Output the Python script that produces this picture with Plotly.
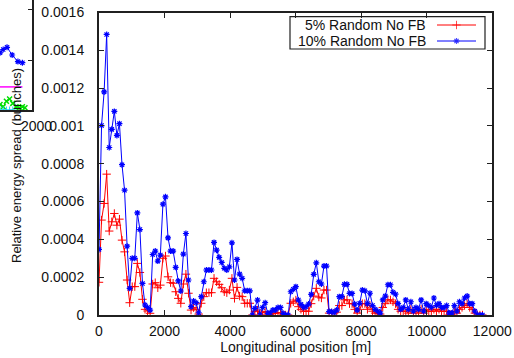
import plotly.graph_objects as go

W, H = 514, 358

position_m = [
    0, 78, 156, 234, 312, 390, 468, 546, 624, 702,
    780, 858, 936, 1014, 1092, 1170, 1248, 1326, 1404, 1482,
    1560, 1638, 1716, 1794, 1872, 1950, 2028, 2106, 2184, 2262,
    2340, 2418, 2496, 2574, 2652, 2730, 2808, 2886, 2964, 3042,
    3120, 3198, 3276, 3354, 3432, 3510, 3588, 3666, 3744, 3822,
    3900, 3978, 4056, 4134, 4212, 4290, 4368, 4446, 4524, 4602,
    4680, 4758, 4836, 4914, 4992, 5070, 5148, 5226, 5304, 5382,
    5460, 5538, 5616, 5694, 5772, 5850, 5928, 6006, 6084, 6162,
    6240, 6318, 6396, 6474, 6552, 6630, 6708, 6786, 6864, 6942,
    7020, 7098, 7176, 7254, 7332, 7410, 7488, 7566, 7644, 7722,
    7800, 7878, 7956, 8034, 8112, 8190, 8268, 8346, 8424, 8502,
    8580, 8658, 8736, 8814, 8892, 8970, 9048, 9126, 9204, 9282,
    9360, 9438, 9516, 9594, 9672, 9750, 9828, 9906, 9984, 10062,
    10140, 10218, 10296, 10374, 10452, 10530, 10608, 10686, 10764, 10842,
    10920, 10998, 11076, 11154, 11232, 11310, 11388, 11466, 11544, 11622,
    11700,
]

spread_10pct = [
    0.000347, 0.001002, 0.00118, 0.001484, 0.000886, 0.000982, 0.001077, 0.00095, 0.001012, 0.000795,
    0.00066, 0.000364, 0.000141, 0.0003, 0.0003, 0.00054, 0.000452, 0.000167, 0.000053, 0.00004,
    0.000026, 0.00032, 0.000338, 0.000285, 0.000317, 0.000586, 0.000625, 0.000408, 0.000338, 0.000338,
    0.000252, 0.00018, 0.000127, 0.000322, 0.000431, 0.000185, 0.000044, 0.000074, 0.000065, 0.000012,
    0.000097, 0.000176, 0.000238, 0.000238, 0.000238, 0.000384, 0.000343, 0.000305, 0.000278, 0.000247,
    0.000238, 0.000255, 0.000382, 0.000185, 0.000294, 0.000216, 0.000194, 0.000128, 0.000128, 0.000128,
    0.0, 0.000035, 0.000079, 0.0, 0.00004, 0.000065, 0.000009, 0.000012, 0.000026, 0.000026,
    0.00004, 0.00004, 0.000009, 0.0, 0.0, 0.000123, 0.000136, 0.00015, 0.000079, 0.000056,
    0.00004, 0.000044, 0.000058, 0.000109, 0.000215, 0.000276, 0.000176, 0.000164, 0.000259, 0.000259,
    0.000018, 0.000018, 0.000013, 0.000026, 0.000097, 0.000097, 0.000162, 0.000162, 0.000114, 0.000114,
    0.000058, 0.000026, 0.000062, 0.000132, 0.000128, 0.00006, 0.000115, 0.00005, 0.00003, 0.00002,
    0.00001, 0.00008, 0.0001, 0.00016, 0.00016, 0.00012, 0.00011, 0.00006, 0.00003, 0.00004,
    0.00008, 0.00003, 0.00007, 0.00002, 0.00004, 0.00003, 0.00008, 0.00002, 0.00006, 0.00005,
    0.00004, 0.00009, 0.00005, 0.00006, 0.00004, 0.00004, 0.00005, 0.00001, 0.00001, 0.00005,
    0.00002, 0.00007, 0.00006, 0.00009, 0.0001, 0.00006, 0.00006, 0.00002, 0.0, 0.0,
    0.0,
]

spread_5pct = [
    0.000173, 0.000502, 0.00059, 0.000745, 0.000444, 0.000493, 0.000537, 0.000475, 0.000507, 0.000396,
    0.000334, 0.000185, 0.000065, 0.00015, 0.00015, 0.000273, 0.000225, 0.000083, 0.00003, 0.000021,
    0.000009, 0.000164, 0.000171, 0.000144, 0.000158, 0.0003, 0.000312, 0.000202, 0.000171, 0.000168,
    0.000123, 0.000088, 0.000062, 0.000164, 0.000216, 0.000115, 0.000026, 0.000039, 0.00003, 0.000005,
    0.000062, 0.000097, 0.000118, 0.000118, 0.000118, 0.000194, 0.000176, 0.000162, 0.000144, 0.000123,
    0.000118, 0.000132, 0.000194, 0.000088, 0.000146, 0.0001, 0.000097, 0.000062, 0.000062, 0.000062,
    0.0, 0.000018, 0.000026, 0.0, 0.000012, 0.000018, 0.0, 0.000004, 0.000009, 0.000009,
    0.000012, 0.000012, 0.0, 0.0, 0.0, 0.000062, 0.00007, 0.000079, 0.000044, 0.00003,
    0.00002, 0.00002, 0.00002, 0.00006, 0.0001, 0.000141, 0.000095, 0.00009, 0.000132, 0.000132,
    0.00001, 0.00001, 0.00001, 0.000015, 0.00005, 0.00005, 0.00008, 0.00008, 0.00006, 0.00006,
    0.00003, 0.00001, 0.00003, 0.00006, 0.00006, 0.00003, 0.00005, 0.00002, 0.00001, 0.00001,
    0.000005, 0.00004, 0.00006, 0.00008, 0.00008, 0.00007, 0.00006, 0.00003, 0.00002, 0.00002,
    0.00002, 0.00001, 0.00003, 0.00001, 0.00002, 0.00001, 0.00003, 0.00001, 0.00003, 0.00002,
    0.00002, 0.00003, 0.00002, 0.00003, 0.00002, 0.00002, 0.00002, 0.0, 0.0, 0.00002,
    0.00001, 0.00003, 0.00004, 0.00005, 0.00006, 0.00004, 0.00003, 0.00001, 0.0, 0.0,
    0.0,
]

series_names = ["5% Random No FB", "10% Random No FB"]
x_ticks = [0, 2000, 4000, 6000, 8000, 10000, 12000]
y_ticks = [0, 0.0002, 0.0004, 0.0006, 0.0008, 0.001, 0.0012, 0.0014, 0.0016]
y_tick_labels = ["0", "0.0002", "0.0004", "0.0006", "0.0008", "0.001", "0.0012", "0.0014", "0.0016"]

# fragment of an overlapping plot in the top-left corner
inset_x = [0.0, 0.1, 0.22, 0.38, 0.56, 0.7]
inset_blue = [0.52, 0.55, 0.57, 0.5, 0.44, 0.43]
inset_magenta_x = [0.0, 0.7]
inset_magenta = [0.21, 0.21]
inset_green_x = [0.0, 0.1, 0.2, 0.3, 0.4, 0.5, 0.6, 0.7, 0.78]
inset_green = [0.05, 0.03, 0.08, 0.1, 0.06, 0.03, 0.02, 0.03, 0.02]
inset_red_x = [0.0, 0.1, 0.2, 0.3, 0.4]
inset_red = [0.0, 0.0, 0.0, 0.0, 0.0]

FONT = "Liberation Sans, Arial, Helvetica, sans-serif"
AX = "#202020"
RED = "#ff0000"
BLUE = "#0000ff"
MSIZE = 5

def px_x(p):
    return p / W

def px_y(p):
    return 1 - p / H

fig = go.Figure()

fig.add_trace(go.Scatter(
    x=position_m, y=spread_5pct, name=series_names[0], mode="lines+markers",
    line=dict(color=RED, width=1),
    marker=dict(symbol="cross-thin-open", size=MSIZE + 1, line=dict(color=RED, width=1)),
    showlegend=False,
))
fig.add_trace(go.Scatter(
    x=position_m, y=spread_10pct, name=series_names[1], mode="lines+markers",
    line=dict(color=BLUE, width=1),
    marker=dict(symbol="asterisk-open", size=MSIZE, line=dict(color=BLUE, width=1.2)),
    showlegend=False,
))

# inset fragment traces
fig.add_trace(go.Scatter(x=inset_x, y=inset_blue, xaxis="x2", yaxis="y2", mode="lines+markers",
                         line=dict(color=BLUE, width=1),
                         marker=dict(symbol="asterisk-open", size=5, line=dict(color=BLUE, width=1.2)),
                         showlegend=False))
fig.add_trace(go.Scatter(x=inset_magenta_x, y=inset_magenta, xaxis="x2", yaxis="y2", mode="lines",
                         line=dict(color="#ff00ff", width=1.5), showlegend=False))
fig.add_trace(go.Scatter(x=inset_green_x, y=inset_green, xaxis="x2", yaxis="y2", mode="lines+markers",
                         line=dict(color="#00dd00", width=1),
                         marker=dict(symbol="x-thin-open", size=5, line=dict(color="#00dd00", width=1.5)),
                         showlegend=False))
fig.add_trace(go.Scatter(x=inset_red_x, y=inset_red, xaxis="x2", yaxis="y2", mode="markers",
                         marker=dict(symbol="cross-thin-open", size=5, line=dict(color=RED, width=1)),
                         showlegend=False))

# legend samples (drawn on their own small axis)
fig.add_trace(go.Scatter(x=[0, 0.5, 1], y=[1, 1, 1], xaxis="x3", yaxis="y3", mode="lines+markers",
                         line=dict(color=RED, width=1),
                         marker=dict(symbol="cross-thin-open", size=[0, MSIZE + 1, 0], line=dict(color=RED, width=1)),
                         showlegend=False, hoverinfo="skip"))
fig.add_trace(go.Scatter(x=[0, 0.5, 1], y=[0, 0, 0], xaxis="x3", yaxis="y3", mode="lines+markers",
                         line=dict(color=BLUE, width=1),
                         marker=dict(symbol="asterisk-open", size=[0, MSIZE, 0], line=dict(color=BLUE, width=1.2)),
                         showlegend=False, hoverinfo="skip"))

x0, x1 = 99, 492.3
y_top, y_bot = 12.5, 315

fig.update_layout(
    autosize=True,
    margin=dict(l=0, r=0, t=0, b=0, autoexpand=False),
    paper_bgcolor="white", plot_bgcolor="white",
    font=dict(family=FONT, size=14, color="#111"),
    xaxis=dict(
        domain=[px_x(x0), px_x(x1)], range=[0, 12000],
        tickvals=x_ticks, ticktext=[str(v) for v in x_ticks],
        ticks="inside", ticklen=5, tickcolor=AX, tickwidth=1,
        showline=True, linecolor=AX, linewidth=2, mirror="ticks",
        showgrid=False, zeroline=False,
        tickfont=dict(size=14, color="#111"),
        ticklabelstandoff=2,
        title=dict(text="Longitudinal position [m]", font=dict(size=14), standoff=4),
        anchor="y",
    ),
    yaxis=dict(
        domain=[px_y(y_bot), px_y(y_top)], range=[0, 0.0016],
        tickvals=y_ticks, ticktext=y_tick_labels,
        ticks="inside", ticklen=5, tickcolor=AX, tickwidth=1,
        showline=True, linecolor=AX, linewidth=2, mirror="ticks",
        showgrid=False, zeroline=False,
        tickfont=dict(size=14, color="#111"),
        ticklabelstandoff=10,
        anchor="x",
    ),
    xaxis2=dict(domain=[0, px_x(32)], range=[0, 1], showgrid=False, zeroline=False,
                showticklabels=False, ticks="", showline=True, linecolor=AX, linewidth=1.5,
                anchor="y2", side="bottom"),
    yaxis2=dict(domain=[px_y(110), 1], range=[0, 1], showgrid=False, zeroline=False,
                showticklabels=False, ticks="inside", ticklen=4, tickcolor=AX,
                tickvals=[0.45, 0.91], showline=True, linecolor=AX, linewidth=1.5,
                anchor="x2", side="right"),
    xaxis3=dict(domain=[px_x(437), px_x(476)], range=[0, 1], visible=False, anchor="y3"),
    yaxis3=dict(domain=[px_y(49), px_y(17)], range=[-0.5, 1.5], visible=False, anchor="x3"),
    showlegend=False,
)

# legend box and labels
fig.add_shape(type="rect", xref="paper", yref="paper",
              x0=px_x(290), x1=px_x(485), y0=px_y(49), y1=px_y(16.7),
              line=dict(color=AX, width=1.2), fillcolor="rgba(0,0,0,0)")
fig.add_annotation(text=series_names[0], xref="paper", yref="paper", x=px_x(428), y=px_y(25),
                   xanchor="right", yanchor="middle", showarrow=False, font=dict(size=14, color="#111"))
fig.add_annotation(text=series_names[1], xref="paper", yref="paper", x=px_x(428), y=px_y(41),
                   xanchor="right", yanchor="middle", showarrow=False, font=dict(size=14, color="#111"))

# y axis title
fig.add_annotation(text="Relative energy spread (bunches)", xref="paper", yref="paper",
                   x=px_x(16), y=px_y(166), textangle=-90, showarrow=False,
                   xanchor="center", yanchor="middle", font=dict(size=13, color="#111"))
# tick label of the overlapping plot, sitting right before "0.001"
fig.add_annotation(text="2000", xref="paper", yref="paper", x=px_x(54), y=px_y(126),
                   xanchor="right", yanchor="middle", showarrow=False, font=dict(size=14, color="#111"))

# the figure fills the browser window; the page's default body margin is removed
fig.write_html(
    "out.html",
    default_width="100vw",
    default_height="100vh",
    config={"displayModeBar": False, "responsive": True},
    post_script="document.body.style.margin='0';document.body.style.overflow='hidden';"
                "window.dispatchEvent(new Event('resize'));",
)
